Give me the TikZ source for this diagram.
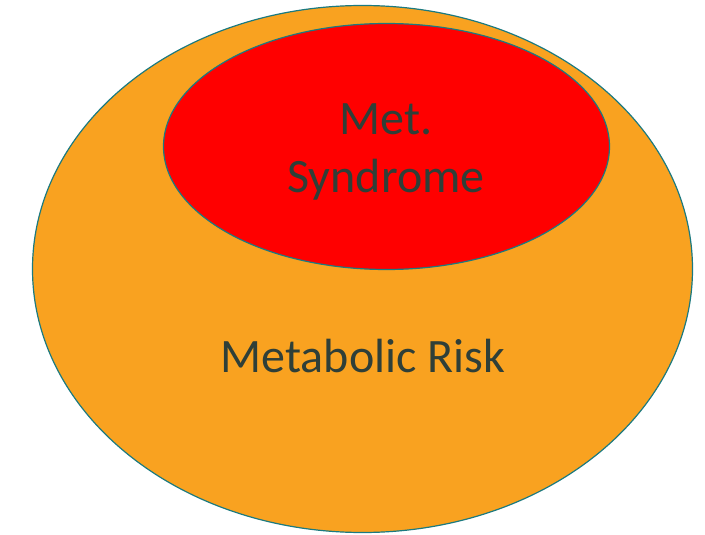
\documentclass[tikz,border=0pt]{standalone}
\usepackage{fontspec}
\setmainfont{Carlito}
\usetikzlibrary{shapes.geometric}
\definecolor{riskorange}{HTML}{F9A220}
\definecolor{edgeteal}{HTML}{1B7A80}
\definecolor{labelgray}{HTML}{2F3F38}
\tikzset{blob/.style={ellipse, draw=edgeteal, line width=1.2pt, inner sep=0pt},
  lbl/.style={text=labelgray, font=\fontsize{48}{58}\selectfont, align=center, inner sep=0pt}}

\begin{document}
\begin{tikzpicture}[x=1pt,y=-1pt]
\useasboundingbox (0,0) rectangle (705,535);
\node[blob, fill=riskorange, minimum width=660, minimum height=527] (risk) at (362.5,269) {};
\node[blob, fill=red, minimum width=446, minimum height=246] (syn) at (386.5,146.5) {};
\node[lbl] (synlabel) at (386,152) {Met.\\Syndrome};
\node[lbl] (risklabel) at (363,356) {Metabolic Risk};
\end{tikzpicture}
\end{document}
